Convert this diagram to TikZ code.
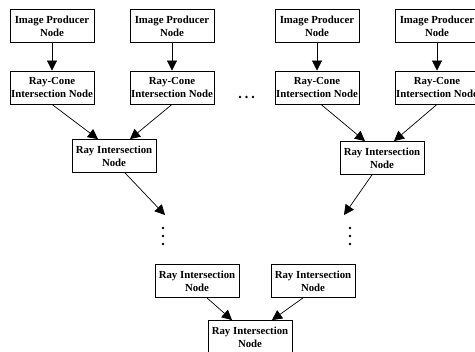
\documentclass[tikz,border=0pt]{standalone}
\usepackage{fontspec}
\setmainfont{Liberation Serif}
\usetikzlibrary{arrows.meta}

\begin{document}
\begin{tikzpicture}[x=1pt,y=-1pt]
  \tikzset{
    box/.style={draw,line width=0.8pt,minimum width=84pt,minimum height=33pt,
      inner sep=0pt,align=center,font=\fontsize{10.8}{13}\selectfont\bfseries},
    arr/.style={line width=0.7pt,-{Triangle[length=10pt,width=10pt]}}
  }
  \clip (0,0) rectangle (475,352);
  % top row: image producers feeding ray-cone nodes
  \foreach \x [count=\i] in {52,172,317,437} {
    \node[box] (ip\i) at (\x,26) {Image Producer\\Node};
    \node[box] (rc\i) at (\x,87.5) {Ray-Cone\\Intersection Node};
    \draw[arr] (ip\i) -- (rc\i);
  }
  \foreach \x in {240,246.5,253} {
    \fill (\x,97) circle (1.3pt);
  }
  % first level of ray intersection
  \node[box] (ri1) at (114,156) {Ray Intersection\\Node};
  \node[box] (ri2) at (382,158) {Ray Intersection\\Node};
  \draw[arr] (rc1.south) -- ([xshift=-16pt]ri1.north);
  \draw[arr] (rc2.south) -- ([xshift=16pt]ri1.north);
  \draw[arr] ([xshift=4pt]rc3.south) -- ([xshift=-17pt]ri2.north);
  \draw[arr] (rc4.south) -- ([xshift=12pt]ri2.north);
  \coordinate (dl) at (165,215);
  \coordinate (dr) at (344,215);
  \draw[arr] ([xshift=11pt]ri1.south) -- (dl);
  \draw[arr] ([xshift=-10pt]ri2.south) -- (dr);
  \foreach \y in {228,236,244} {
    \fill (163,\y) circle (1.3pt);
    \fill (350,\y) circle (1.3pt);
  }
  % last level
  \node[box] (ri3) at (197,281) {Ray Intersection\\Node};
  \node[box] (ri4) at (313,281) {Ray Intersection\\Node};
  \node[box] (ri5) at (250,337) {Ray Intersection\\Node};
  \draw[arr] ([xshift=10pt]ri3.south) -- ([xshift=-18pt]ri5.north);
  \draw[arr] ([xshift=-10pt]ri4.south) -- ([xshift=22pt]ri5.north);
\end{tikzpicture}
\end{document}
